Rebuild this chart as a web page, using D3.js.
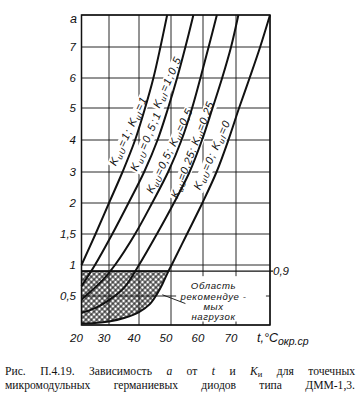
<!DOCTYPE html>
<html><head><meta charset="utf-8">
<script src="https://cdn.jsdelivr.net/npm/d3@7"></script>
<style>
body{margin:0;background:#fff;}
svg{display:block;}
</style></head><body>
<svg id="c" width="358" height="395"></svg>
<script>
// ---------- data ----------
const xTicks = [20, 30, 40, 50, 60, 70, 80];
const xTickLabels = ["20", "30", "40", "50", "60", "70", ""];
const yTicks = [0, 0.5, 1, 1.5, 2, 3, 4, 5, 6, 7, 8];
const yTickLabels = ["", "0,5", "1", "1,5", "2", "3", "4", "5", "6", "7", ""];
const yAxisName = "a";
const limitValue = 0.9;
const limitLabel = "0,9";

// curves: [t, a]
const curveK1_1   = [[20,1],[25.1,1.5],[30,2],[34.5,3],[38.7,4],[41.9,5],[44.5,6],[46.7,7],[48.8,8]];
const curveK05_1  = [[20,0.66],[24.9,1],[31.1,1.5],[36.5,2],[41.6,3],[45.8,4],[49.1,5],[51.9,6],[54.5,7],[57,8]];
const curveK05_05 = [[20,0.44],[23.1,0.565],[27.8,0.76],[32,1],[38.7,1.5],[44.1,2],[49.1,3],[53.3,4],[56.6,5],[59.2,6],[61.7,7],[64.2,8]];
const curveK025   = [[20,0.21],[24.9,0.29],[30,0.43],[35,0.63],[40,1],[45.6,1.5],[50.9,2],[55.8,3],[59.7,4],[62.9,5],[65.8,6],[68.5,7],[70.7,8]];
const curveK0     = [[20,0.026],[24.9,0.034],[30,0.06],[35,0.12],[40,0.224],[43.4,0.36],[45.6,0.53],[47.3,0.69],[49.1,0.89],[50.2,1],[55,1.5],[59.8,2],[64.1,3],[67.7,4],[70.9,5],[74,6],[77.1,7],[80,8]];
const curves = [curveK1_1, curveK05_1, curveK05_05, curveK025, curveK0];

const curveLabels = [
  "K_{иU}=1; K_{иI}=1",
  "K_{иU}=0,5;1",
  "K_{иI}=1;0,5",
  "K_{иU}=0,5; K_{иI}=0,5",
  "K_{иU}=0,25; K_{иI}=0,25",
  "K_{иU}=0; K_{иI}=0"
];
const regionLabel = ["Область", "рекомендуе -", "мых", "нагрузок"];
const xAxisName = "t,°C";
const xAxisSub = "окр.ср";
const captionLine1 = ["Рис. П.4.19. Зависимость ", {i:"a"}, " от ", {i:"t"}, " и ", {i:"K"}, {s:"и"}, " для точечных"];
const captionLine2 = ["микромодульных германиевых диодов типа ДММ-1,3."];

// ---------- layout ----------
const svg = d3.select("#c");
const x = d3.scaleLinear().domain(xTicks).range([81.5,109,139,171,203,236,270]);
const y = d3.scaleLinear().domain(yTicks).range([325,296,265,234,203,172,140,108,78,47,15]);
const ink = "#111";
const fontSans = "'Liberation Sans', Arial, sans-serif";
const interp = d3.curveCatmullRom.alpha(0.5);

// label anchors [t, a, angle, length] (annotation placement)
const labelPlaces = [[36.3,4.27,-65,74],[42.0,3.95,-67,62],[48.7,5.85,-66,54],[49.4,3.66,-64,92],[56.6,3.69,-69,102],[62.6,3.53,-66,74]];

const defs = svg.append("defs");
const pat = defs.append("pattern").attr("id","hatch").attr("patternUnits","userSpaceOnUse")
  .attr("width",3.8).attr("height",3.8).attr("patternTransform","rotate(45)");
pat.append("path").attr("d","M0,1.9H3.8M1.9,0V3.8").attr("stroke",ink).attr("stroke-width",1.05);

const areaAbove = d3.area().x(d=>x(d[0])).y0(d=>y(d[1])).y1(y(8)).curve(interp);
defs.append("clipPath").attr("id","above0").append("path").attr("d", areaAbove(curveK0));

// grid
const grid = svg.append("g").attr("stroke",ink).attr("stroke-width",0.9);
grid.selectAll("line.h").data(yTicks).join("line")
  .attr("x1",x(20)).attr("x2",x(80)).attr("y1",d=>y(d)).attr("y2",d=>y(d));
grid.selectAll("line.v").data(xTicks).join("line")
  .attr("y1",y(0)).attr("y2",y(8)).attr("x1",d=>x(d)).attr("x2",d=>x(d));
svg.append("line").attr("x1",x(20)).attr("x2",x(80)+3).attr("y1",y(limitValue)).attr("y2",y(limitValue))
  .attr("stroke",ink).attr("stroke-width",1.2);

// label helper
function rich(textSel, str, fs){
  const re=/_\{([^}]*)\}/g; let last=0,m,parts=[];
  while((m=re.exec(str))){ if(m.index>last) parts.push({t:str.slice(last,m.index)}); parts.push({t:m[1],sub:true}); last=re.lastIndex; }
  if(last<str.length) parts.push({t:str.slice(last)});
  let down=false;
  parts.forEach(p=>{
    const ts=textSel.append("tspan").text(p.t);
    if(p.sub){ ts.attr("font-size",fs*0.72); if(!down){ts.attr("dy",fs*0.22); down=true;} }
    else if(down){ ts.attr("dy",-fs*0.22); down=false; }
  });
}

// curve labels with white backing
const lblG = svg.append("g");
curveLabels.forEach((s,i)=>{
  const p = labelPlaces[i];
  const g = lblG.append("g").attr("transform",`translate(${x(p[0])},${y(p[1])}) rotate(${p[2]})`);
  const r = g.append("rect").attr("fill","#fff");
  const t = g.append("text").attr("text-anchor","middle").attr("dy","0.35em")
    .attr("font-family",fontSans).attr("font-style","italic").attr("font-size",11).attr("fill",ink)
    .attr("textLength",p[3]).attr("lengthAdjust","spacing");
  rich(t,s,11);
  const b = t.node().getBBox();
  r.attr("x",-p[3]/2-1.5).attr("y",b.y+1).attr("width",p[3]+3).attr("height",b.height-1.5);
});

// region label box
svg.append("rect").attr("x",x(51.6)).attr("y",y(0.82)).attr("width",x(78.8)-x(51.6)).attr("height",y(0.06)-y(0.82)).attr("fill","#fff");

// hatched region
svg.append("rect").attr("x",x(20)).attr("y",y(limitValue)).attr("width",x(80)-x(20)).attr("height",y(0)-y(limitValue))
  .attr("fill","url(#hatch)").attr("clip-path","url(#above0)");
svg.append("line").attr("x1",x(20)).attr("x2",x(80)).attr("y1",y(limitValue)).attr("y2",y(limitValue))
  .attr("stroke",ink).attr("stroke-width",1.8).attr("clip-path","url(#above0)");

// curves
const line = d3.line().x(d=>x(d[0])).y(d=>y(d[1])).curve(interp);
svg.append("g").selectAll("path").data(curves).join("path")
  .attr("d",line).attr("fill","none").attr("stroke",ink).attr("stroke-width",2).attr("stroke-linejoin","round");

// frame
svg.append("rect").attr("x",x(20)).attr("y",y(8)).attr("width",x(80)-x(20)).attr("height",y(0)-y(8))
  .attr("fill","none").attr("stroke",ink).attr("stroke-width",1.5);

// leader line
svg.append("line").attr("x1",x(47.3)).attr("y1",y(0.52)).attr("x2",x(54.5)).attr("y2",y(0.37))
  .attr("stroke",ink).attr("stroke-width",0.9);

// region label text (separate lines)
svg.append("g").selectAll("text").data(regionLabel).join("text")
  .attr("font-family",fontSans).attr("font-style","italic").attr("font-size",9.6).attr("letter-spacing",0.6)
  .attr("fill",ink).attr("text-anchor","middle")
  .attr("x",x(63.2)).attr("y",(d,i)=>y(0.66)+3.4+i*10.1).text(d=>d);

// axes labels
svg.append("g").selectAll("text").data(yTicks.filter((d,i)=>yTickLabels[i])).join("text")
  .attr("x",76).attr("y",d=>y(d)).attr("dy","0.36em").attr("text-anchor","end")
  .attr("font-family",fontSans).attr("font-style","italic").attr("font-size",11.5).attr("fill",ink)
  .text(d=>yTickLabels[yTicks.indexOf(d)]);
svg.append("text").attr("x",77).attr("y",y(8)+8).attr("text-anchor","end")
  .attr("font-family",fontSans).attr("font-style","italic").attr("font-size",12.5).attr("fill",ink).text(yAxisName);
svg.append("g").selectAll("text").data(xTicks.filter((d,i)=>xTickLabels[i])).join("text")
  .attr("x",d=>x(d)-5).attr("y",342).attr("text-anchor","middle")
  .attr("font-family",fontSans).attr("font-style","italic").attr("font-size",11.5).attr("fill",ink)
  .text(d=>xTickLabels[xTicks.indexOf(d)]);
const xn = svg.append("text").attr("x",257).attr("y",342)
  .attr("font-family",fontSans).attr("font-style","italic").attr("font-size",12.5).attr("fill",ink);
xn.append("tspan").text(xAxisName);
xn.append("tspan").attr("dy",3).attr("font-size",10.5).text(xAxisSub);
svg.append("text").attr("x",x(80)+3).attr("y",y(limitValue)).attr("dy","0.36em")
  .attr("font-family",fontSans).attr("font-style","italic").attr("font-size",11.5).attr("fill",ink).text(limitLabel);

// caption, justified by word spacing
function caption(parts, yy){
  const t = svg.append("text").attr("x",5).attr("y",yy).attr("font-family","'Liberation Serif','Times New Roman',serif")
    .attr("font-size",11.6).attr("fill",ink);
  let down=false;
  parts.forEach(p=>{
    const ts=t.append("tspan");
    if(typeof p==="string"){ ts.text(p); if(down){ts.attr("dy",-1.5);down=false;} }
    else if(p.i){ ts.text(p.i).attr("font-style","italic"); if(down){ts.attr("dy",-1.5);down=false;} }
    else if(p.s){ ts.text(p.s).attr("font-size",8.5).attr("dy",1.5); down=true; }
  });
  const full = parts.map(p=>typeof p==="string"?p:(p.i||p.s)).join("");
  const spaces = (full.match(/ /g)||[]).length;
  const w = t.node().getComputedTextLength();
  if(spaces>0 && w<350) t.attr("word-spacing",(350-w)/spaces);
}
caption(captionLine1, 375);
caption(captionLine2, 389);
</script>
</body></html>
